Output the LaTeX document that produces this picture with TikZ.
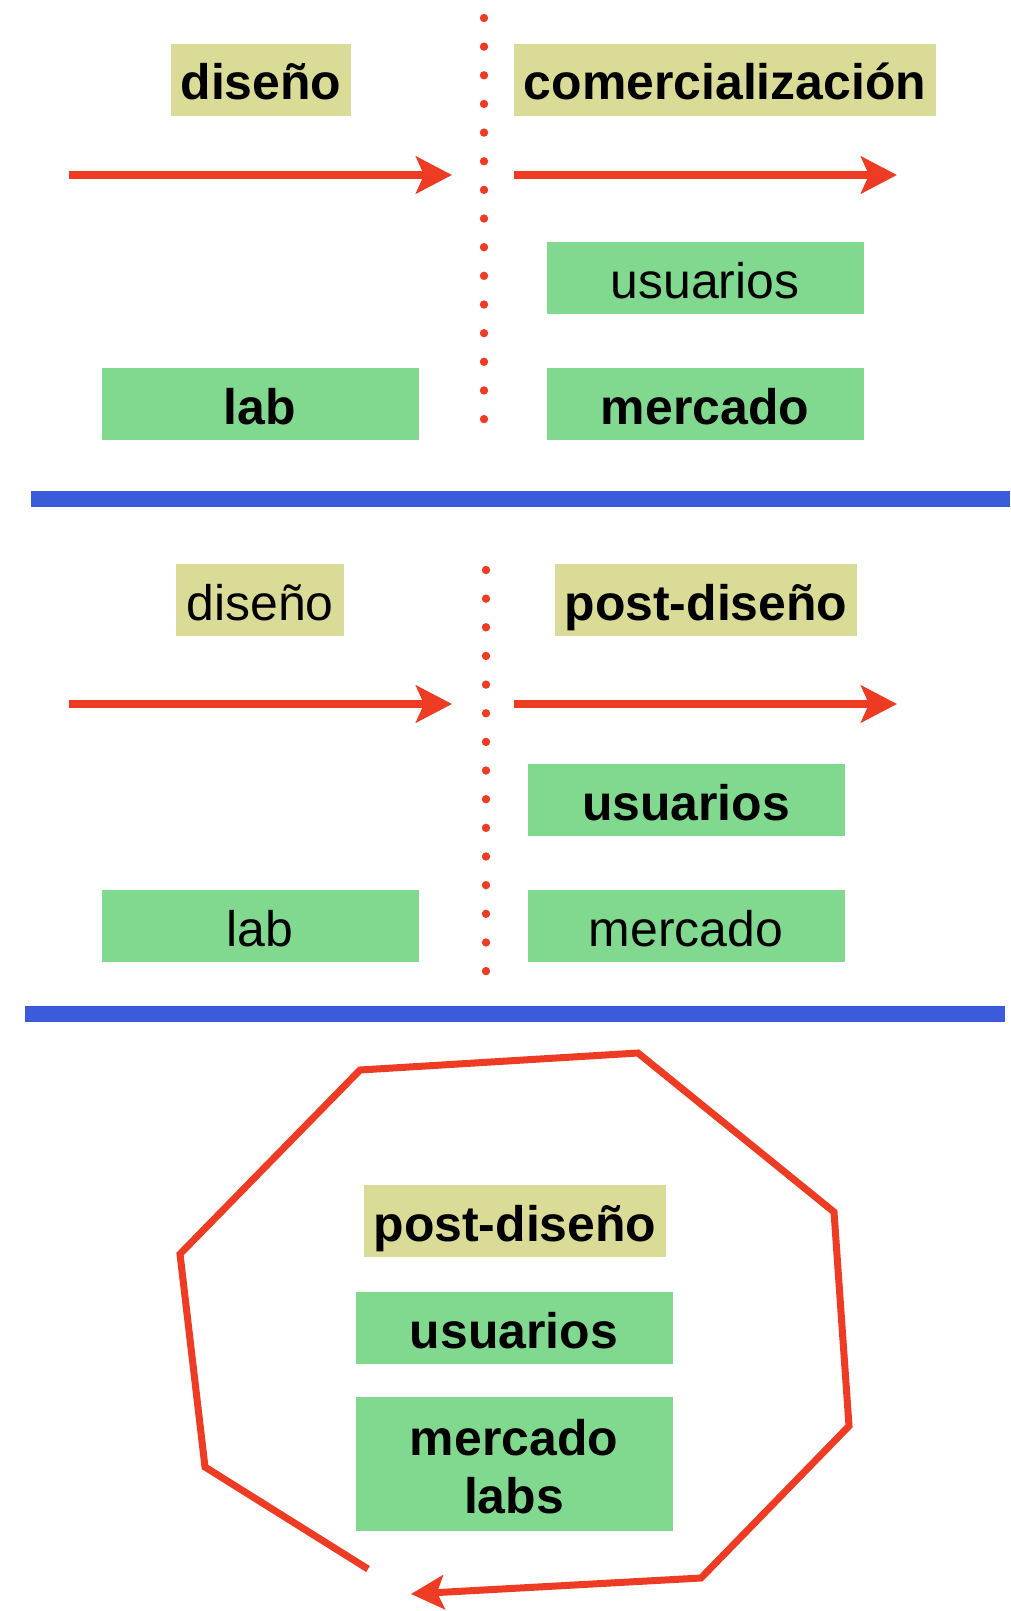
\documentclass[tikz,border=0pt]{standalone}
\usepackage{fontspec}
\setmainfont{Liberation Sans}
\usetikzlibrary{positioning,arrows.meta}
\definecolor{khaki}{HTML}{D9DB96}
\definecolor{leaf}{HTML}{80D98F}
\definecolor{flame}{HTML}{EE3B24}
\definecolor{royal}{HTML}{3A5CDB}
\tikzset{txt/.style={font=\fontsize{14.2}{16.5}\selectfont,text height=0.46cm,text depth=0.06cm}}
\tikzset{heavy/.style={font=\fontsize{14.2}{16.5}\selectfont\bfseries}}
\tikzset{tag/.style={txt,fill=khaki,inner xsep=0.1cm,inner ysep=0pt,minimum height=0.72cm}}
\tikzset{cell/.style={txt,fill=leaf,inner sep=0pt,minimum width=3.17cm,minimum height=0.72cm}}
\tikzset{flow/.style={-{Stealth[length=0.36cm,width=0.37cm,inset=0.08cm]},flame,line width=0.08cm}}
\tikzset{split/.style={royal,line width=0.16cm}}
\tikzset{turn/.style={-{Stealth[length=0.33cm,width=0.34cm,inset=0.07cm]},flame,line width=0.07cm,line join=miter}}

\begin{document}
\begin{tikzpicture}
  \useasboundingbox (0,0) rectangle (10.1,-16.11);

  % antes
  \node[tag,heavy] (dis1) at (2.61,-0.80) {diseño};
  \node[tag,heavy] (com1) at (7.25,-0.80) {comercialización};
  \node[cell] (usu1) at (7.05,-2.78) {usuarios};
  \node[cell,heavy] (lab1) at (2.60,-4.04) {lab};
  \node[cell,heavy] (mer1) at (7.05,-4.04) {mercado};
  \coordinate (a1s) at (0.69,-1.75);
  \coordinate (a1e) at (4.52,-1.75);
  \coordinate (b1s) at (5.14,-1.75);
  \coordinate (b1e) at (8.97,-1.75);
  \draw[flow] (a1s) -- (a1e);
  \draw[flow] (b1s) -- (b1e);
  \foreach \i in {0,...,14}
    \fill[flame] (4.84,-0.18-0.2865*\i) circle (0.042);
  \draw[split] (0.31,-4.99) -- (10.1,-4.99);

  % ahora
  \node[tag] (dis2) at (2.60,-6.00) {diseño};
  \node[tag,heavy] (pos2) at (7.06,-6.00) {post-diseño};
  \node[cell,heavy] (usu2) at (6.86,-8.00) {usuarios};
  \node[cell] (lab2) at (2.60,-9.26) {lab};
  \node[cell] (mer2) at (6.86,-9.26) {mercado};
  \coordinate (a2s) at (0.69,-7.04);
  \coordinate (a2e) at (4.52,-7.04);
  \coordinate (b2s) at (5.14,-7.04);
  \coordinate (b2e) at (8.97,-7.04);
  \draw[flow] (a2s) -- (a2e);
  \draw[flow] (b2s) -- (b2e);
  \foreach \i in {0,...,14}
    \fill[flame] (4.86,-5.70-0.2865*\i) circle (0.042);
  \draw[split] (0.25,-10.14) -- (10.05,-10.14);

  % ciclo
  \node[tag,heavy] (pos3) at (5.15,-12.21) {post-diseño};
  \node[cell,heavy] (usu3) at (5.14,-13.28) {usuarios};
  \node[cell,heavy,minimum height=1.34cm,text height=1.04cm,align=center] (ml3) at (5.14,-14.64) {mercado\\labs};
  \draw[turn] (3.68,-15.69) -- (2.05,-14.67) -- (1.80,-12.54) -- (3.60,-10.70)
    -- (6.38,-10.53) -- (8.34,-12.12) -- (8.49,-14.26) -- (7.01,-15.78) -- (4.11,-15.94);
\end{tikzpicture}
\end{document}
